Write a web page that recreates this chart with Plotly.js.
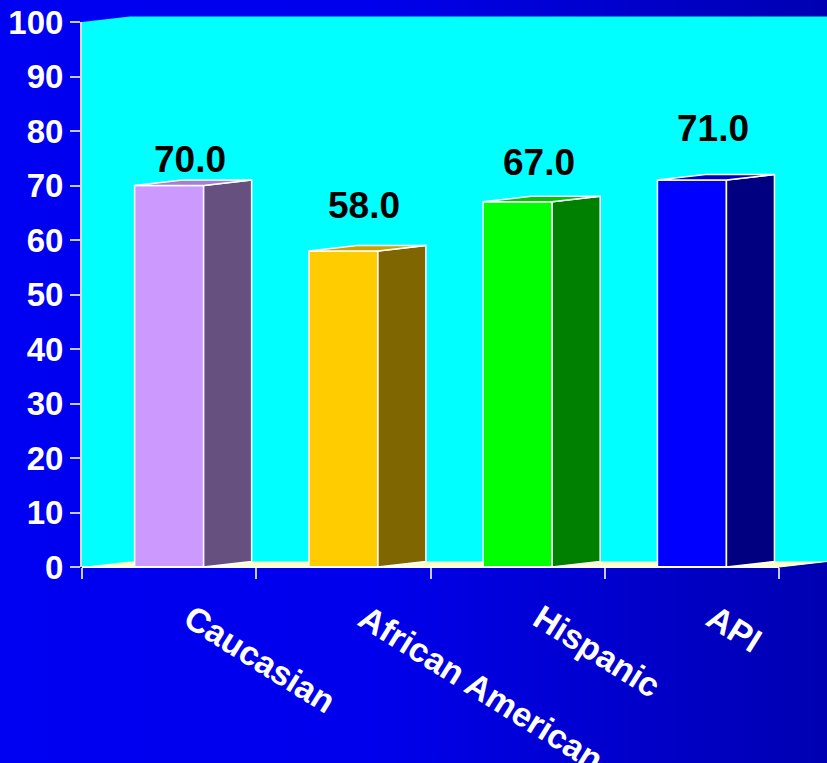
<!DOCTYPE html>
<html>
<head>
<meta charset="utf-8">
<script src="https://cdn.plot.ly/plotly-3.0.1.min.js"></script>
<style>
  html, body { margin: 0; padding: 0; }
  body { width: 827px; height: 763px; overflow: hidden;
         background: linear-gradient(to right, #0000F2 0%, #0000EC 45%, #0000B2 100%); }
  #chart { width: 827px; height: 763px; }
</style>
</head>
<body>
<div id="chart"></div>
<script>
// ---- data ----
const categories = ['Caucasian', 'African American', 'Hispanic', 'API'];
const values = [70.0, 58.0, 67.0, 71.0];
const valueLabels = ['70.0', '58.0', '67.0', '71.0'];

// ---- styles ----
const frontColors = ['#CC99FF', '#FFCC00', '#00FF00', '#0000FF'];
const sideColors  = ['#665080', '#806600', '#008000', '#000080'];
const topColors   = ['#A47FD0', '#C9A200', '#00C800', '#0000C8'];
const labelRaise  = [26, 45, 39, 52];   // px the value text sits above each bar top

// ---- geometry (layout) ----
const W = 827, H = 763;
const M = { l: 82, r: 0, t: 22, b: 196 };
const xr = [-0.5, 3.775];
const yr = [0, 100];
const plotW = W - M.l - M.r, plotH = H - M.t - M.b;
const pxX = plotW / (xr[1] - xr[0]);
const pxY = plotH / (yr[1] - yr[0]);
const barW = 69 / pxX;
const depthX = 48 / pxX;
const depthY = 5.5 / pxY;

const traces = [];
// front faces (bars)
traces.push({
  type: 'bar', x: categories.map((c, i) => i), y: values, width: barW,
  marker: { color: frontColors, line: { color: '#FFFFFF', width: 1.5 } },
  hoverinfo: 'skip', showlegend: false
});
// side and top faces
values.forEach((v, i) => {
  const xl = i - barW / 2, xrt = i + barW / 2;
  traces.push({
    type: 'scatter', mode: 'lines', fill: 'toself', fillcolor: sideColors[i],
    x: [xrt, xrt + depthX, xrt + depthX, xrt, xrt],
    y: [0, depthY, v + depthY, v, 0],
    line: { color: '#FFFFFF', width: 1.5 }, hoverinfo: 'skip', showlegend: false
  });
  traces.push({
    type: 'scatter', mode: 'lines', fill: 'toself', fillcolor: topColors[i],
    x: [xl, xl + depthX, xrt + depthX, xrt, xl],
    y: [v, v + depthY, v + depthY, v, v],
    line: { color: '#FFFFFF', width: 1.5 }, hoverinfo: 'skip', showlegend: false
  });
});

// paper helpers for the box walls
const px = x => (x - xr[0]) / (xr[1] - xr[0]);
const py = y => (y - yr[0]) / (yr[1] - yr[0]);
const dxp = depthX / (xr[1] - xr[0]);
const dyp = depthY / (yr[1] - yr[0]);
const xEnd = px(categories.length - 0.5);

const wall = `M 0 ${py(100)} L ${dxp} ${py(100) + dyp} L 1 ${py(100) + dyp} L 1 ${dyp} L ${xEnd} 0 L 0 0 Z`;
const floor = `M 0 0 L ${dxp} ${dyp} L 1 ${dyp} L ${xEnd} 0 Z`;

const shapes = [
  { type: 'path', xref: 'paper', yref: 'paper', path: wall, fillcolor: '#00FFFF', line: { width: 0 }, layer: 'below' },
  { type: 'path', xref: 'paper', yref: 'paper', path: floor, fillcolor: '#FFFFC4', line: { width: 0 }, layer: 'below' },
  { type: 'line', xref: 'paper', yref: 'paper', x0: 0, x1: xEnd, y0: 0, y1: 0, line: { color: '#FFFFFF', width: 2 }, layer: 'above' },
  { type: 'line', xref: 'paper', yref: 'paper', x0: xEnd, x1: 1, y0: 0, y1: dyp, line: { color: '#FFFFE0', width: 1 }, layer: 'above' }
];

const annotations = [];
values.forEach((v, i) => {
  annotations.push({
    x: i, y: v, xref: 'x', yref: 'y', text: valueLabels[i], showarrow: false,
    xanchor: 'center', yanchor: 'middle', xshift: 21, yshift: labelRaise[i],
    font: { family: 'Liberation Sans, Arial, sans-serif', size: 37, color: '#000000', weight: 'bold' }
  });
});
categories.forEach((c, i) => {
  annotations.push({
    x: i, y: 0, xref: 'x', yref: 'y', text: c, showarrow: false,
    textangle: 32, xanchor: 'left', yanchor: 'top', xshift: 6, yshift: -28,
    font: { family: 'Liberation Sans, Arial, sans-serif', size: 34, color: '#FFFFFF', weight: 'bold' }
  });
});

const layout = {
  width: W, height: H, margin: M,
  paper_bgcolor: 'rgba(0,0,0,0)', plot_bgcolor: 'rgba(0,0,0,0)',
  showlegend: false, bargap: 0,
  xaxis: {
    range: xr, showgrid: false, zeroline: false, showline: false,
    tickvals: [-0.5, 0.5, 1.5, 2.5, 3.5], ticks: 'outside', ticklen: 11, tickwidth: 2,
    tickcolor: '#C8C8F4', showticklabels: false, fixedrange: true
  },
  yaxis: {
    range: yr, showgrid: false, zeroline: false, showline: true, linecolor: '#D8D8FF', linewidth: 2,
    tickvals: [0, 10, 20, 30, 40, 50, 60, 70, 80, 90, 100],
    ticks: 'outside', ticklen: 10, tickwidth: 2, tickcolor: '#C8C8F4',
    tickfont: { family: 'Liberation Sans, Arial, sans-serif', size: 33, color: '#FFFFFF', weight: 'bold' },
    fixedrange: true
  },
  shapes: shapes, annotations: annotations
};

Plotly.newPlot('chart', traces, layout, { staticPlot: true, displayModeBar: false });
</script>
</body>
</html>
